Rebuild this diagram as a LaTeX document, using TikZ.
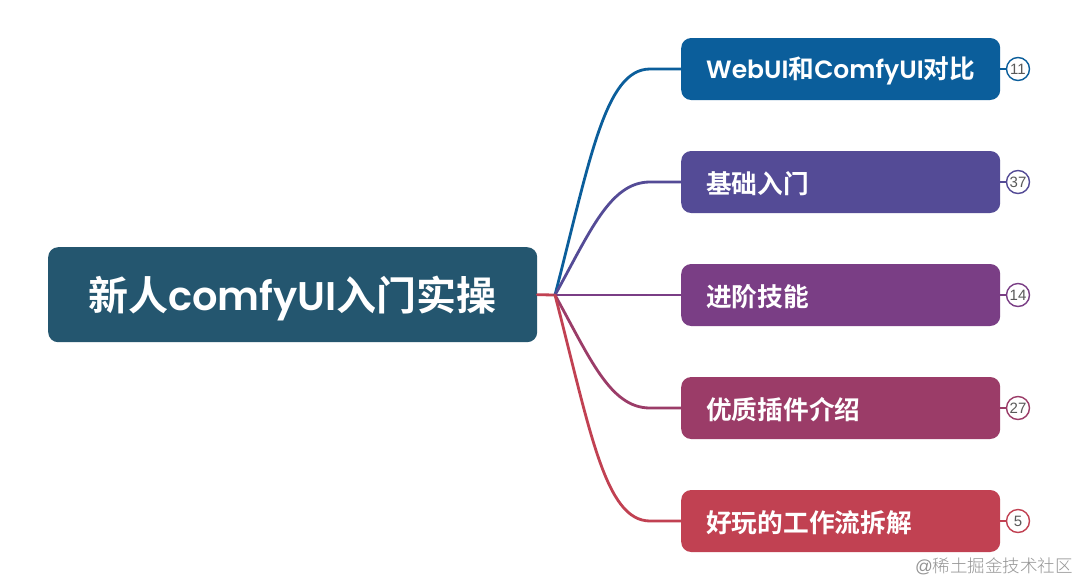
\documentclass[tikz,border=0pt]{standalone}
\usepackage{fontspec}
\setmainfont{Poppins}
\newfontfamily\lat{Poppins SemiBold}
\newfontfamily\cjkb{Noto Sans CJK SC Bold}
\newfontfamily\cjkl{Noto Sans CJK SC Light}
\newfontfamily\num{Liberation Sans}
\definecolor{cRoot}{HTML}{24566F}
\definecolor{cA}{HTML}{0B5E9B}
\definecolor{cB}{HTML}{544B96}
\definecolor{cC}{HTML}{7A3E85}
\definecolor{cD}{HTML}{9B3C68}
\definecolor{cE}{HTML}{C14152}
\newcommand{\latsm}[1]{{\lat\fontsize{25pt}{28pt}\selectfont #1}}
\tikzset{
  rootbox/.style={draw=none,fill=cRoot,rounded corners=10pt,minimum width=489pt,minimum height=95pt,inner sep=0pt,text=white},
  topicbox/.style={draw=none,rounded corners=10pt,minimum width=319pt,minimum height=62pt,inner sep=0pt,text=white,anchor=west},
  topictext/.style={text=white,anchor=west,inner sep=0pt,font=\fontsize{25.7pt}{28pt}\selectfont},
  badge/.style={circle,draw,line width=1.4pt,fill=white,minimum size=23pt,inner sep=0pt,font=\num\fontsize{15pt}{16pt}\selectfont,text=black!65},
  link/.style={line width=2.8pt,line cap=round},
  stub/.style={line width=2.2pt},
}
\begin{document}
\begin{tikzpicture}[x=1pt,y=-1pt]
\useasboundingbox (0,0) rectangle (1080,582);
\fill[white] (0,0) rectangle (1080,582);
\coordinate (fork) at (555,295);
\node[rootbox,anchor=north west] (root) at (48,247) {};
\node[topicbox,fill=cA] (a) at (681,69) {};
\node[topicbox,fill=cB] (b) at (681,182) {};
\node[topicbox,fill=cC] (c) at (681,295) {};
\node[topicbox,fill=cD] (d) at (681,408) {};
\node[topicbox,fill=cE] (e) at (681,521) {};
\node[font=\fontsize{40pt}{44pt}\selectfont,text=white,inner sep=0pt] (roott) at (292.5,298) {{\cjkb 新人}{\lat comfyUI}{\cjkb 入门实操}};
\node[topictext] (ta) at (706,71) {\latsm{WebUI}{\cjkb 和}\latsm{ComfyUI}{\cjkb 对比}};
\node[topictext] (tb) at (706,184) {\cjkb 基础入门};
\node[topictext] (tc) at (706,297) {\cjkb 进阶技能};
\node[topictext] (td) at (706,410) {\cjkb 优质插件介绍};
\node[topictext] (te) at (706,523) {\cjkb 好玩的工作流拆解};
\draw[link,cE] (root.east) -- (fork);
\draw[link,cA] (fork) .. controls (590,160) and (605,69) .. (650,69) -- (a.west);
\draw[link,cB] (fork) .. controls (590,232) and (610,182) .. (650,182) -- (b.west);
\draw[link,cC] (fork) -- (c.west);
\draw[link,cD] (fork) .. controls (590,358) and (610,408) .. (650,408) -- (d.west);
\draw[link,cE] (fork) .. controls (590,430) and (605,521) .. (650,521) -- (e.west);
\node[badge,draw=cA] (na) at (1018,69) {11};
\node[badge,draw=cB] (nb) at (1018,182) {37};
\node[badge,draw=cC] (nc) at (1018,295) {14};
\node[badge,draw=cD] (nd) at (1018,408) {27};
\node[badge,draw=cE] (ne) at (1018,521) {5};
\draw[stub,cA] (a.east) -- (na.west);
\draw[stub,cB] (b.east) -- (nb.west);
\draw[stub,cC] (c.east) -- (nc.west);
\draw[stub,cD] (d.east) -- (nd.west);
\draw[stub,cE] (e.east) -- (ne.west);
\node[anchor=east,inner sep=0pt,text=black!42,font=\fontsize{17.5pt}{19pt}\selectfont] (wm) at (1073,566) {{\num @}{\cjkl 稀土掘金技术社区}};
\end{tikzpicture}
\end{document}
